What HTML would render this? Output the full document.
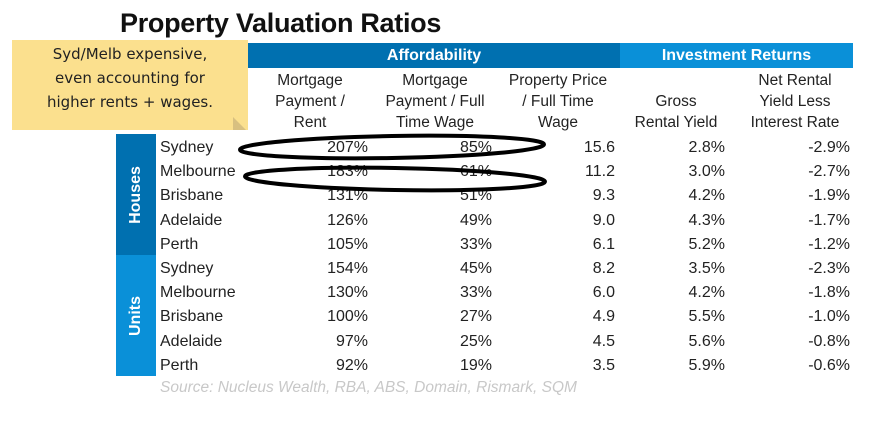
<!DOCTYPE html>
<html><head><meta charset="utf-8"><style>
body{margin:0;width:887px;height:425px;background:#fff;position:relative;overflow:hidden;font-family:"Liberation Sans",Arial,sans-serif;color:#222}
.a{position:absolute}
.t{font-size:16px;line-height:24px;white-space:nowrap}
.hd{font-size:15.5px;line-height:21px;text-align:center;white-space:nowrap}
</style></head><body>
<div class="a" style="left:120px;top:8px;font-size:27px;font-weight:bold;color:#111;letter-spacing:-0.3px">Property Valuation Ratios</div>
<div class="a" style="left:248px;top:43px;width:372px;height:25px;background:#0070b0;color:#fff;font-weight:bold;font-size:16px;line-height:25px;text-align:center">Affordability</div>
<div class="a" style="left:620px;top:43px;width:233px;height:25px;background:#0a90d8;color:#fff;font-weight:bold;font-size:16px;line-height:25px;text-align:center">Investment Returns</div>
<div class="a hd" style="left:250px;top:70px;width:120px">Mortgage<br>Payment /<br>Rent</div>
<div class="a hd" style="left:372px;top:70px;width:126px">Mortgage<br>Payment / Full<br>Time Wage</div>
<div class="a hd" style="left:498px;top:70px;width:120px">Property Price<br>/ Full Time<br>Wage</div>
<div class="a hd" style="left:620px;top:91px;width:112px">Gross<br>Rental Yield</div>
<div class="a hd" style="left:735px;top:70px;width:120px">Net Rental<br>Yield Less<br>Interest Rate</div>
<div class="a" style="left:116px;top:134px;width:40px;height:121px;background:#0070b0"><div style="position:absolute;left:50%;top:50%;transform:translate(-50%,-50%) rotate(-90deg);color:#fff;font-weight:bold;font-size:16px">Houses</div></div>
<div class="a" style="left:116px;top:255px;width:40px;height:121px;background:#0a90d8"><div style="position:absolute;left:50%;top:50%;transform:translate(-50%,-50%) rotate(-90deg);color:#fff;font-weight:bold;font-size:16px">Units</div></div>
<div id="rows"></div>
<div class="a" style="left:160px;top:379px;font-size:15.5px;font-style:italic;color:#c8c8c8">Source: Nucleus Wealth, RBA, ABS, Domain, Rismark, SQM</div>
<div class="a" style="left:12px;top:40px;width:236px;height:90px;background:#fbe08e;font-family:'DejaVu Sans',sans-serif;font-size:15px;line-height:24px;text-align:center;color:#222;padding-top:2px;box-sizing:border-box">Syd/Melb expensive,<br>even accounting for<br>higher rents + wages.</div>
<div class="a" style="left:233px;top:117px;width:0;height:0;border-left:13px solid #d8c080;border-top:13px solid transparent"></div>
<svg class="a" style="left:0;top:0" width="887" height="425">
<ellipse cx="392" cy="147" rx="152" ry="11" fill="none" stroke="#000" stroke-width="4" transform="rotate(-1 392 147)"/>
<ellipse cx="395" cy="179" rx="150" ry="11" fill="none" stroke="#000" stroke-width="4" transform="rotate(1 395 179)"/>
</svg>
<script>
const cities=["Sydney","Melbourne","Brisbane","Adelaide","Perth","Sydney","Melbourne","Brisbane","Adelaide","Perth"];
const mortRent=["207%","183%","131%","126%","105%","154%","130%","100%","97%","92%"];
const mortWage=["85%","61%","51%","49%","33%","45%","33%","27%","25%","19%"];
const priceWage=["15.6","11.2","9.3","9.0","6.1","8.2","6.0","4.9","4.5","3.5"];
const grossYield=["2.8%","3.0%","4.2%","4.3%","5.2%","3.5%","4.2%","5.5%","5.6%","5.9%"];
const netYield=["-2.9%","-2.7%","-1.9%","-1.7%","-1.2%","-2.3%","-1.8%","-1.0%","-0.8%","-0.6%"];
const root=document.getElementById('rows');
const cols=[[mortRent,368],[mortWage,492],[priceWage,615],[grossYield,725],[netYield,850]];
cities.forEach((c,i)=>{
 const y=136+i*24.2;
 const d=document.createElement('div');d.className='a t';d.style.left='160px';d.style.top=y+'px';d.textContent=c;
 
 
 root.appendChild(d);
 cols.forEach(([arr,r])=>{
  const e=document.createElement('div');e.className='a t';e.style.right=(887-r)+'px';e.style.top=y+'px';e.textContent=arr[i];
  
  
  root.appendChild(e);
 });
});
</script>
</body></html>
